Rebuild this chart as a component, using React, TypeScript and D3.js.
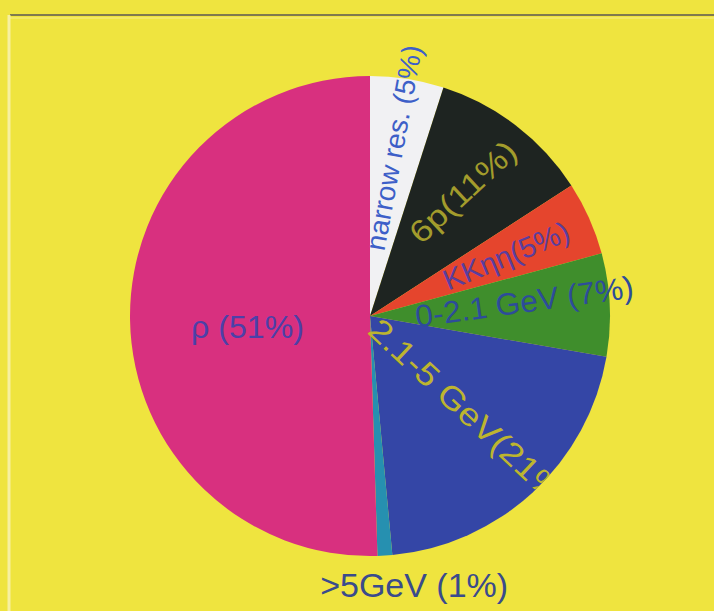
import React from "react";
import * as d3 from "d3";

const categories = ["narrow res. (5%)", "6p(11%)", "KKηη(5%)", "0-2.1 GeV (7%)", "2.1-5 GeV(21%)", ">5GeV (1%)", "ρ (51%)"];
const values = [5, 11, 5, 7, 21, 1, 51];
const sliceColors = ["#F1F1F3", "#1E2421", "#E5452D", "#3F8E2C", "#3446A6", "#2690B0", "#D8307F"];
const labelColors = ["#3D5FC8", "#A39C2C", "#5A3E9E", "#2D4C9A", "#BDB52F", "#3A4B8C", "#4C40A8"];
// label layout: polar radius, angle (deg, clockwise from top), rotation, text length, font size
const labelR = [170, 155, 149, 155, 141, 273, 123];
const labelA = [8.1, 36.9, 66.2, 84.8, 134.5, 170.7, 264.8];
const labelRot = [-79.5, -43, -22.6, -7.8, 43, 0, 0];
const labelLen = [208, 134, 134, 220, 265, 188, 113];
const labelSize = [28, 31, 29, 31, 32, 33, 32];
const clipToPie = [false, false, false, false, true, false, false];

export default function App() {
  const W = 714, H = 611;
  const cx = 370, cy = 316, R = 240;
  const pie = d3.pie<number>().sort(null).value((d) => d);
  const arcs = pie(values);
  const arc = d3.arc<d3.PieArcDatum<number>>().innerRadius(0).outerRadius(R);
  return (
    <svg width={W} height={H} style={{ position: "absolute", left: 0, top: 0 }} fontFamily="'Liberation Sans', Arial, sans-serif">
      <defs>
        <clipPath id="pieClip">
          <circle cx={0} cy={0} r={R} />
        </clipPath>
      </defs>
      <rect x={0} y={0} width={W} height={H} fill="#EFE43F" />
      <line x1={10} y1={15} x2={W} y2={15} stroke="#7F7A4E" strokeWidth={2} />
      <line x1={10} y1={18} x2={W} y2={18} stroke="#F6EE8A" strokeWidth={1} />
      <line x1={9} y1={15} x2={9} y2={H} stroke="#F7F0A0" strokeWidth={3} />
      <g transform={`translate(${cx},${cy})`}>
        {arcs.map((a, i) => (
          <path key={i} d={arc(a) || ""} fill={sliceColors[i]} />
        ))}
        {categories.map((c, i) => {
          const th = (labelA[i] * Math.PI) / 180;
          const x = labelR[i] * Math.sin(th);
          const y = -labelR[i] * Math.cos(th);
          return (
            <g key={c} clipPath={clipToPie[i] ? "url(#pieClip)" : undefined}>
              <text
                transform={`translate(${x},${y}) rotate(${labelRot[i]})`}
                textAnchor="middle"
                dominantBaseline="central"
                fontSize={labelSize[i]}
                fill={labelColors[i]}
                textLength={labelLen[i]}
                lengthAdjust="spacingAndGlyphs"
              >
                {c}
              </text>
            </g>
          );
        })}
      </g>
    </svg>
  );
}
